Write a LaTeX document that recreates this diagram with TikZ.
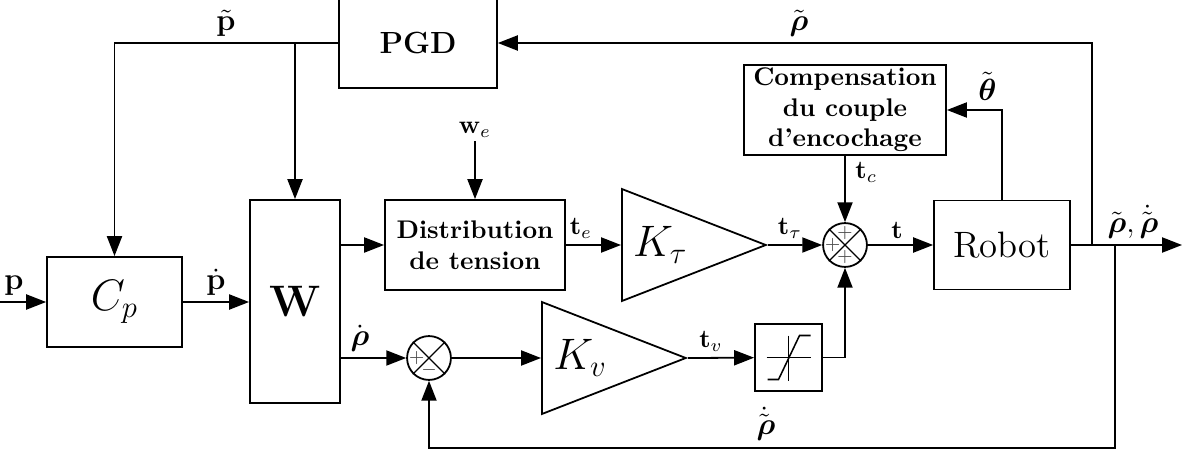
\documentclass[tikz,border=0pt]{standalone}
\usepackage{amsmath, amssymb}
\usepackage{tikz}
\usetikzlibrary{arrows.meta, shapes.geometric}
\tikzset{
  block/.style={draw, rectangle, inner sep=0pt, align=center},
  gain/.style={draw, isosceles triangle, isosceles triangle stretches,
    minimum width=43.9pt, minimum height=56.4pt, inner sep=0pt, anchor=west},
  sum/.style={draw, circle, minimum size=17.2pt, inner sep=0pt},
  sgn/.style={inner sep=0pt, font=\scriptsize, text=black!70},
  lab/.style={inner sep=1pt, anchor=south},
  arr/.style={-{Triangle[length=7.8pt,width=5.9pt]}}
}

\begin{document}
\begin{tikzpicture}[x=0.392pt, y=-0.392pt, line width=0.7pt]
    \useasboundingbox (0,0) rectangle (1189,452);

    % Draw blocks
    \node[block, minimum width=52.9pt, minimum height=35.3pt, font=\LARGE] (cp) at (114.5,302) {$C_p$};
    \node[block, minimum width=35.3pt, minimum height=79.6pt, font=\LARGE] (W) at (295,301.5) {$\mathbf{W}$};
    \node[block, minimum width=70.6pt, minimum height=35.3pt, font=\bfseries] (dist) at (475,245) {Distribution\\de tension};
    \node[gain, font=\LARGE] (ktau) at (621,245) {$K_\tau$};
    \node[gain, font=\LARGE] (kv) at (541,358) {$K_v$};
    \node[block, minimum width=53.3pt, minimum height=34.9pt, font=\Large] (robot) at (1002,245) {Robot};
    \node[block, minimum width=61.9pt, minimum height=35.3pt, font=\large\bfseries] (pgd) at (418,43) {PGD};
    \node[block, minimum width=79.2pt, minimum height=35.3pt, font=\bfseries] (comp) at (845,110) {Compensation\\du couple\\d'encochage};
    \node[block, minimum size=26.3pt] (sat) at (788.5,357.5) {};

    % Saturation curve
    \begin{scope}[shift={(sat.center)}, line width=0.6pt]
        \draw (-22,0) -- (22,0);
        \draw (0,-22) -- (0,23);
        \draw (-21,22) -- (-10,22) -- (11,-22) -- (22,-22);
    \end{scope}

    % Summing junctions
    \node[sum] (sum1) at (429,358) {};
    \node[sum] (sum2) at (845,245) {};
    \foreach \s in {sum1,sum2} {
        \draw[line width=0.5pt] (\s.north west) -- (\s.south east);
        \draw[line width=0.5pt] (\s.north east) -- (\s.south west);
    }
    \node[sgn] (s1l) at ([xshift=-4.8pt]sum1.center) {$+$};
    \node[sgn] (s1b) at ([yshift=-4.8pt]sum1.center) {$-$};
    \node[sgn] (s2t) at ([yshift=4.8pt]sum2.center) {$+$};
    \node[sgn] (s2l) at ([xshift=-4.8pt]sum2.center) {$+$};
    \node[sgn] (s2b) at ([yshift=-4.8pt]sum2.center) {$+$};

    % Signal labels
    \node[lab, font=\large] (lp) at (14,299) {$\mathbf{p}$};
    \node[lab, font=\large] (lpd) at (216,299) {$\dot{\mathbf{p}}$};
    \node[lab, font=\large] (lpt) at (226,40) {$\tilde{\mathbf{p}}$};
    \node[lab, anchor=center] (we) at (475,130) {$\mathbf{w}_e$};
    \node[lab] (lte) at (581,242) {$\mathbf{t}_e$};
    \node[lab] (ltt) at (790,242) {$\mathbf{t}_\tau$};
    \node[lab] (lt) at (897,242) {$\mathbf{t}$};
    \node[lab, anchor=west] (ltc) at (852,172) {$\mathbf{t}_c$};
    \node[lab, font=\large, anchor=south east] (lth) at (1000,104) {$\tilde{\boldsymbol{\theta}}$};
    \node[lab, font=\large] (lrt) at (799,40) {$\tilde{\boldsymbol{\rho}}$};
    \node[lab, font=\large] (lout) at (1133,242) {$\tilde{\boldsymbol{\rho}},\dot{\tilde{\boldsymbol{\rho}}}$};
    \node[lab, font=\large] (lrd) at (360,355) {$\dot{\boldsymbol{\rho}}$};
    \node[lab] (ltv) at (711,355) {$\mathbf{t}_v$};
    \node[lab, font=\large] (lfb) at (766,444) {$\dot{\tilde{\boldsymbol{\rho}}}$};

    % Free ends and branch points
    \coordinate (pin) at (0,302);
    \coordinate (out) at (1182,245);
    \coordinate (jr) at (1092,245);
    \coordinate (jd) at (1115,245);
    \coordinate (fb) at (1115,448);

    % Forward path
    \draw[arr] (pin) -- (cp);
    \draw[arr] (cp) -- (cp -| W.west);
    \draw[arr] (W.east |- dist.west) -- (dist);
    \draw[arr] (dist.east) -- (ktau.west);
    \draw[arr] (ktau.east) -- (sum2);
    \draw[arr] (sum2) -- (robot);
    \draw[arr] (robot) -- (out);
    \draw[arr] (we) -- (dist);
    \draw[arr] (comp) -- (sum2);
    \draw[arr] (W.east |- sum1) -- (sum1);
    \draw[arr] (sum1) -- (kv.west);
    \draw[arr] (kv.east) -- (sat);
    \draw[arr] (sat) -| (sum2);

    % Feedback paths
    \draw[arr] (jr) |- (pgd.east);
    \draw[arr] (pgd.west) -| (cp.north);
    \draw[arr] (W.north |- pgd.west) -- (W.north);
    \draw[arr] (robot.north) |- (comp.east);
    \draw[arr] (jd) -- (fb) -| (sum1);
\end{tikzpicture}
\end{document}
